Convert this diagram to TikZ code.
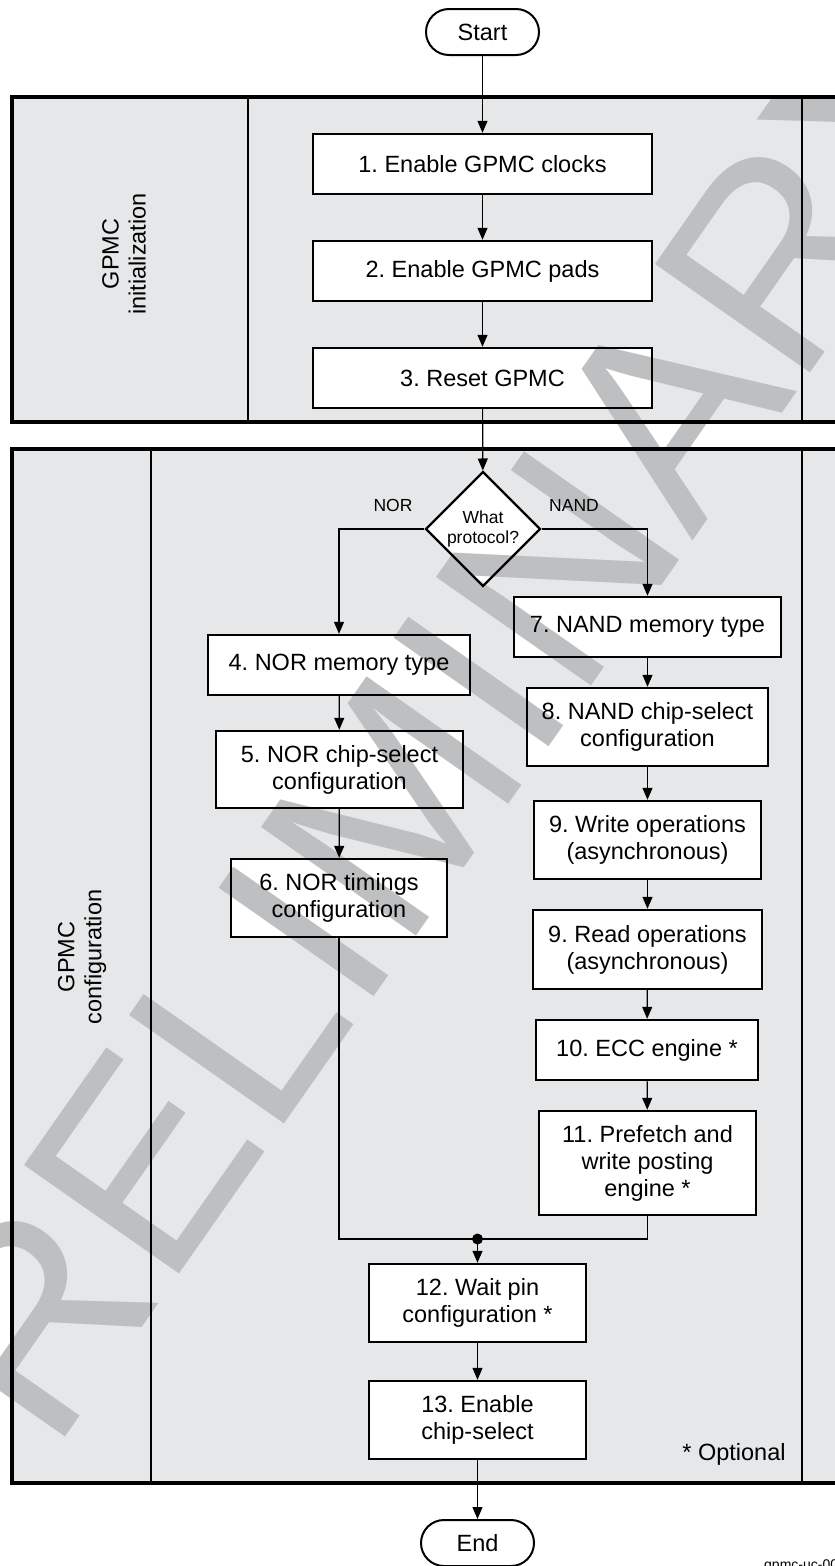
\documentclass[tikz,border=0pt]{standalone}
\usepackage{fontspec}
\setmainfont{Liberation Sans}
\usetikzlibrary{arrows.meta,shapes.geometric}
\definecolor{lanegray}{RGB}{230,231,232}
\definecolor{markgray}{RGB}{190,191,193}
\pgfdeclarelayer{lanes}
\pgfdeclarelayer{mark}
\pgfsetlayers{lanes,mark,main}
\newcommand{\txt}{\fontsize{23.5}{27}\selectfont}
\newcommand{\smalltxt}{\fontsize{17.5}{20}\selectfont}
\frenchspacing

\begin{document}
\begin{tikzpicture}[x=1pt,y=1pt,>={Triangle[length=12pt,width=10pt]}]
    \tikzstyle{box}=[draw, line width=2.4pt, inner sep=0pt, align=center, font=\txt]
    \tikzstyle{term}=[draw, line width=2pt, rounded corners=23pt, minimum width=113pt, minimum height=46pt, font=\txt]
    \tikzstyle{flow}=[line width=1.2pt]
    \tikzstyle{lane}=[line width=4pt]

    \useasboundingbox (0,0) rectangle (835,-1566);

    % swimlanes
    \begin{pgfonlayer}{lanes}
      \fill[lanegray] (12,-97) rectangle (860,-422);
      \fill[lanegray] (12,-449) rectangle (860,-1483);
    \end{pgfonlayer}
    \draw[lane] (12,-97) rectangle (860,-422);
    \draw[lane] (12,-449) rectangle (860,-1483);
    \draw[flow] (248,-97) -- (248,-422);
    \draw[flow] (802,-97) -- (802,-422);
    \draw[flow] (151,-449) -- (151,-1483);
    \draw[flow] (802,-449) -- (802,-1483);

    \node[rotate=90, align=center, font=\txt] (hinit) at (124,-254) {GPMC\\initialization};
    \node[rotate=90, align=center, font=\txt] (hconf) at (82,-957) {GPMC\\configuration};

    \node[term] (start) at (482.5,-32) {Start};

    \node[box, minimum width=339pt, minimum height=60pt] (b1) at (482.5,-164) {1. Enable GPMC clocks};
    \node[box, minimum width=339pt, minimum height=60pt] (b2) at (482.5,-271) {2. Enable GPMC pads};
    \node[box, minimum width=339pt, minimum height=60pt] (b3) at (482.5,-378) {3. Reset GPMC};

    \node[draw, diamond, aspect=1, line width=2.4pt, inner sep=0pt, minimum width=115pt, minimum height=115pt, align=center, font=\smalltxt] (q) at (483,-529) {What\\protocol?};
    \node[font=\smalltxt] (lnor) at (393,-505) {NOR};
    \node[font=\smalltxt] (lnand) at (574,-505) {NAND};

    \node[box, minimum width=262pt, minimum height=60pt] (b4) at (339,-665) {4. NOR memory type};
    \node[box, minimum width=247pt, minimum height=77pt] (b5) at (339.5,-769.5) {5. NOR chip-select\\configuration};
    \node[box, minimum width=216pt, minimum height=78pt] (b6) at (339,-898) {6. NOR timings\\configuration};

    \node[box, minimum width=267pt, minimum height=60pt] (b7) at (647.5,-627) {7. NAND memory type};
    \node[box, minimum width=241pt, minimum height=78pt] (b8) at (647.5,-727) {8. NAND chip-select\\configuration};
    \node[box, minimum width=227pt, minimum height=78pt] (b9w) at (647.5,-840) {9. Write operations\\(asynchronous)};
    \node[box, minimum width=229pt, minimum height=79pt] (b9r) at (647.5,-949.5) {9. Read operations\\(asynchronous)};
    \node[box, minimum width=222pt, minimum height=60pt] (b10) at (647,-1050) {10. ECC engine *};
    \node[box, minimum width=217pt, minimum height=104pt] (b11) at (647.5,-1163) {11. Prefetch and\\write posting\\engine *};

    \node[box, minimum width=217pt, minimum height=78pt] (b12) at (477.5,-1303) {12. Wait pin\\configuration *};
    \node[box, minimum width=217pt, minimum height=78pt] (b13) at (477.5,-1420) {13. Enable\\chip-select};

    \node[font=\txt] (opt) at (734,-1454) {* Optional};
    \node[term] (stop) at (477.5,-1543) {End};
    \node[anchor=base west, inner sep=0pt, font=\fontsize{14}{16}\selectfont] (tag) at (764,-1569) {gpmc-uc-00};

    \draw[flow,->] (start) -- (b1);
    \draw[flow,->] (b1) -- (b2);
    \draw[flow,->] (b2) -- (b3);
    \draw[flow,->] (b3) -- (q);
    \draw[flow,->] (q.west) -| (b4);
    \draw[flow,->] (q.east) -| (b7);
    \draw[flow,->] (b4) -- (b5);
    \draw[flow,->] (b5) -- (b6);
    \draw[flow,->] (b7) -- (b8);
    \draw[flow,->] (b8) -- (b9w);
    \draw[flow,->] (b9w) -- (b9r);
    \draw[flow,->] (b9r) -- (b10);
    \draw[flow,->] (b10) -- (b11);
    \coordinate (join) at (477.5,-1239);
    \draw[flow] (b6) |- (join) -| (b11);
    \fill (join) circle (5.5);
    \draw[flow,->] (join) -- (b12);
    \draw[flow,->] (b12) -- (b13);
    \draw[flow,->] (b13) -- (stop);

    % white box fills under the watermark
    \begin{pgfonlayer}{lanes}
      \foreach \n in {b1,b2,b3,b4,b5,b6,b7,b8,b9w,b9r,b10,b11,b12,b13}
        \fill[white] (\n.south west) rectangle (\n.north east);
      \fill[white] (q.north) -- (q.east) -- (q.south) -- (q.west) -- cycle;
    \end{pgfonlayer}

    \begin{pgfonlayer}{mark}
      \node[rotate=55, inner sep=0pt, text=markgray, font=\fontsize{275}{275}\selectfont] (wm) at (403,-790) {PRELIMINARY};
    \end{pgfonlayer}
\end{tikzpicture}
\end{document}
